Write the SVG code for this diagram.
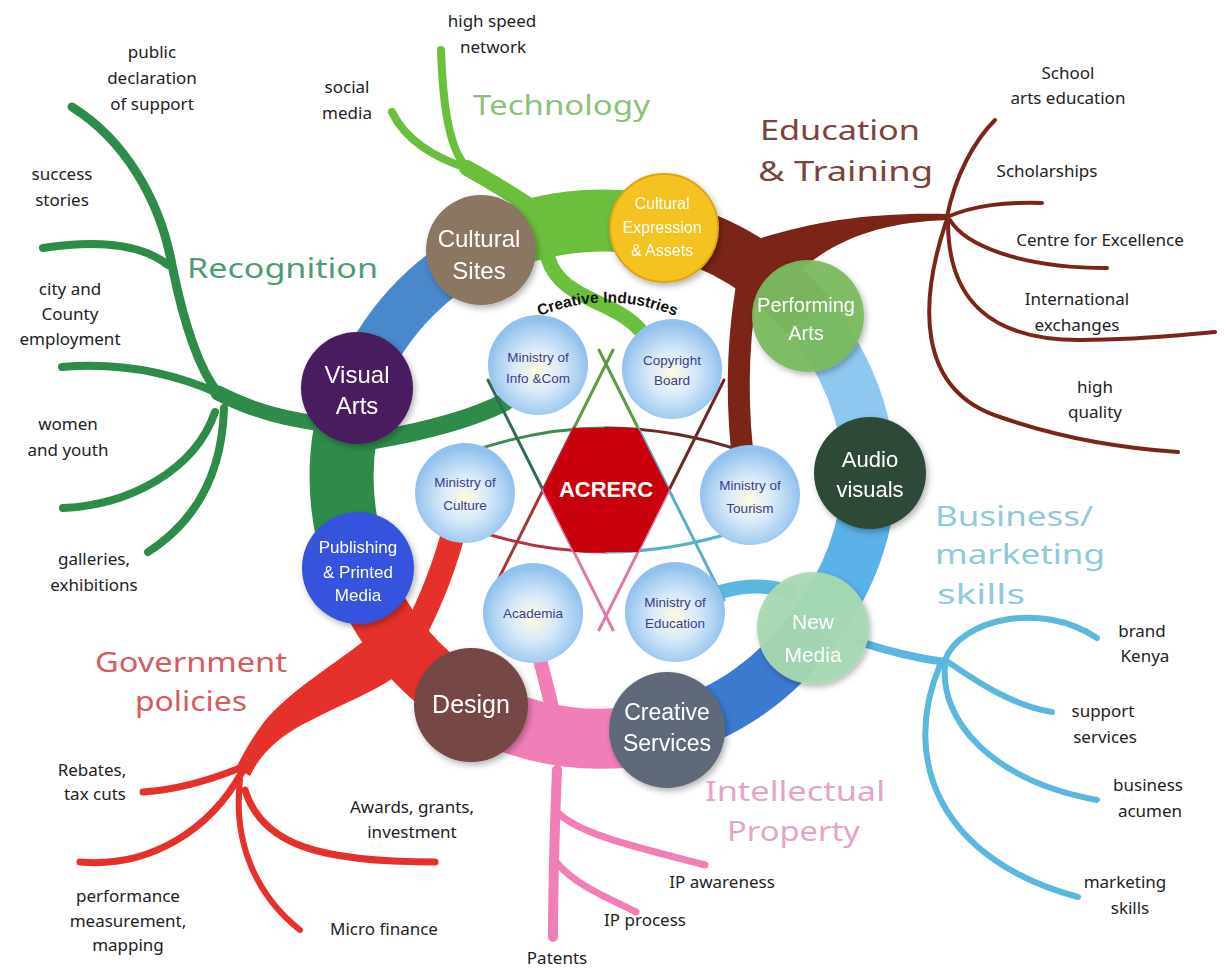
<svg xmlns="http://www.w3.org/2000/svg" width="1226" height="968" viewBox="0 0 1226 968">
<defs>
  <radialGradient id="min" cx="50%" cy="55%" r="50%">
    <stop offset="0%" stop-color="#fffbe0"/>
    <stop offset="45%" stop-color="#d8eaf9"/>
    <stop offset="85%" stop-color="#a7cef1"/>
    <stop offset="100%" stop-color="#92c1ee"/>
  </radialGradient>
  <filter id="sh" x="-20%" y="-20%" width="140%" height="140%">
    <feDropShadow dx="2" dy="3" stdDeviation="3" flood-color="#000" flood-opacity="0.3"/>
  </filter>
  <path id="ciArc" d="M 520 325 Q 607 280 695 325"/>
</defs>
<style>
  .br{fill:none;stroke-linecap:round;stroke-linejoin:round}
  .ring{fill:none;stroke-linecap:butt}
  .lbl{font-family:"Noto Sans","DejaVu Sans",sans-serif;font-size:17px;fill:#222;text-anchor:middle}
  .cat{font-family:"Noto Sans","DejaVu Sans",sans-serif;font-size:27px}
  .nt{font-family:"Liberation Sans",Arial,sans-serif;text-anchor:middle;fill:#fff}
  .mt{font-family:"Liberation Sans",Arial,sans-serif;font-size:13.5px;text-anchor:middle;fill:#3c3c8c}
  .star{fill:none;stroke-width:3;stroke-linecap:round}
  .min{fill:url(#min)}
</style>
<rect width="1226" height="968" fill="#ffffff"/>

<g id="connectors">
  <!-- Recognition (green) -->
  <g stroke="#2e8b4a" class="br">
    <path d="M 218 393 C 255 412 290 420 330 425" stroke-width="15"/>
    <path d="M 72 107 C 125 140 160 200 172 265 C 185 330 200 370 218 393" stroke-width="9"/>
    <path d="M 43 248 C 95 240 140 243 168 265" stroke-width="8"/>
    <path d="M 62 367 C 120 362 170 372 218 393" stroke-width="8"/>
    <path d="M 63 508 C 130 505 195 470 215 412" stroke-width="8"/>
    <path d="M 148 552 C 190 525 222 480 224 408" stroke-width="8"/>
    <path d="M 375 440 C 420 432 470 420 505 402" stroke-width="18"/>
  </g>
  <!-- Technology (light green) -->
  <g stroke="#6cbf3c" class="br">
    <path d="M 528 205 C 505 190 485 178 467 168" stroke-width="16"/>
    <path d="M 467 168 C 435 158 405 140 392 112" stroke-width="8"/>
    <path d="M 467 168 C 450 150 443 110 441 50" stroke-width="8"/>
    <path d="M 548 258 C 560 300 615 300 640 330" stroke-width="15"/>
  </g>
  <!-- Education & Training (maroon) -->
  <path d="M 755 240 C 810 222 870 212 948 214 L 948 220 C 880 222 830 240 790 280 Z" fill="#7a2518"/>
  <g stroke="#7a2518" class="br">
    <path d="M 750 270 C 738 330 736 390 742 450" stroke-width="22"/>
    <path d="M 947 217 C 955 175 975 140 995 120" stroke-width="4"/>
    <path d="M 947 217 C 975 205 1005 202 1042 203" stroke-width="4"/>
    <path d="M 950 220 C 965 245 1020 268 1107 268" stroke-width="4"/>
    <path d="M 948 222 C 948 300 990 340 1080 340 C 1140 340 1180 335 1215 332" stroke-width="4"/>
    <path d="M 946 222 C 920 300 915 390 1000 417 C 1060 438 1120 448 1178 452" stroke-width="4"/>
  </g>
  <!-- Business / marketing (light blue) -->
  <g stroke="#5bb7dd" class="br">
    <path d="M 720 592 C 745 585 770 585 790 592" stroke-width="14"/>
    <path d="M 860 642 C 890 652 915 658 945 662" stroke-width="8"/>
    <path d="M 945 660 C 960 620 1040 600 1097 638" stroke-width="6"/>
    <path d="M 948 662 C 975 680 1010 705 1052 712" stroke-width="6"/>
    <path d="M 945 665 C 940 720 990 780 1097 800" stroke-width="6"/>
    <path d="M 940 665 C 900 760 940 860 1078 897" stroke-width="6"/>
  </g>
  <!-- Government policies (red) -->
  <g stroke="#e6302b" class="br" fill="none">
    <path d="M 452 538 C 440 580 425 615 405 650" stroke-width="24"/>
    <path d="M 240 768 C 205 782 175 790 143 792" stroke-width="7"/>
    <path d="M 242 772 C 210 830 150 868 80 862" stroke-width="7"/>
    <path d="M 240 780 C 232 850 262 900 300 930" stroke-width="6"/>
    <path d="M 245 790 C 262 845 320 862 435 862" stroke-width="7"/>
  </g>
  <path d="M 378 630 C 335 665 292 688 264 722 C 252 738 244 752 236 768 L 250 776 C 260 755 276 740 298 727 C 338 705 378 692 412 665 Z" fill="#e6302b"/>
  <!-- Intellectual Property (pink) -->
  <g stroke="#f27eb8" class="br">
    <path d="M 540 660 C 548 690 556 720 560 750" stroke-width="14"/>
    <path d="M 557 770 C 555 820 553 880 553 937" stroke-width="10"/>
    <path d="M 557 812 C 580 835 640 848 705 865" stroke-width="7"/>
    <path d="M 556 862 C 575 885 608 898 636 912" stroke-width="7"/>
  </g>
  <!-- Ring -->
  <g id="ring">
    <path class="ring" d="M 358 568 A 262 262 0 0 1 357 388" stroke="#2e8b4a" stroke-width="64"/>
    <path class="ring" d="M 357 388 A 262 262 0 0 1 481 250" stroke="#4a88cc" stroke-width="50"/>
    <path class="ring" d="M 481 250 A 262 262 0 0 1 664 228" stroke="#6cbf3c" stroke-width="62"/>
    <path class="ring" d="M 664 228 A 262 262 0 0 1 808 316" stroke="#7a2518" stroke-width="56"/>
    <path class="ring" d="M 808 316 A 262 262 0 0 1 870 473" stroke="#8ec8f0" stroke-width="52"/>
    <path class="ring" d="M 870 473 A 262 262 0 0 1 813 628" stroke="#5ab2e8" stroke-width="54"/>
    <path class="ring" d="M 813 628 A 262 262 0 0 1 667 730" stroke="#3c7ad0" stroke-width="54"/>
    <path class="ring" d="M 667 730 A 262 262 0 0 1 471 705" stroke="#f27eb8" stroke-width="60"/>
    <path class="ring" d="M 471 705 A 262 262 0 0 1 358 568" stroke="#e6302b" stroke-width="60"/>
  </g>
  <!-- Star lines -->
  <g id="star">
    <path class="star" d="M 470 452 Q 538 428 606 428" stroke="#3f8a4f"/>
    <path class="star" d="M 606 428 Q 675 428 745 452" stroke="#6e2a22"/>
    <path class="star" d="M 475 530 Q 540 552 607 552" stroke="#b8303a"/>
    <path class="star" d="M 607 552 Q 673 552 740 530" stroke="#58b0c8"/>
    <path class="star" d="M 613 350 L 574 428" stroke="#5a9a40"/>
    <path class="star" d="M 574 428 L 488 600" stroke="#a8343a"/>
    <path class="star" d="M 599 350 L 638 428" stroke="#5a9a40"/>
    <path class="star" d="M 638 428 L 724 600" stroke="#5ab0c8"/>
    <path class="star" d="M 488 380 L 543 490" stroke="#2f6a58"/>
    <path class="star" d="M 543 490 L 613 630" stroke="#e07aaa"/>
    <path class="star" d="M 724 380 L 669 490" stroke="#6e2a22"/>
    <path class="star" d="M 669 490 L 599 630" stroke="#e07aaa"/>
  </g>
</g>

<g id="min-info"><circle class="min" cx="538" cy="365" r="50"/><text class="mt" x="538" y="362">Ministry of</text><text class="mt" x="538" y="383">Info &amp;Com</text></g>
<g id="min-copyright"><circle class="min" cx="672" cy="369" r="50"/><text class="mt" x="672" y="365">Copyright</text><text class="mt" x="672" y="385">Board</text></g>
<g id="min-culture"><circle class="min" cx="465" cy="493" r="50"/><text class="mt" x="465" y="487">Ministry of</text><text class="mt" x="465" y="510">Culture</text></g>
<g id="min-tourism"><circle class="min" cx="750" cy="495" r="50"/><text class="mt" x="750" y="490">Ministry of</text><text class="mt" x="750" y="513">Tourism</text></g>
<g id="academia"><circle class="min" cx="533" cy="613" r="50"/><text class="mt" x="533" y="618">Academia</text></g>
<g id="min-education"><circle class="min" cx="675" cy="612" r="50"/><text class="mt" x="675" y="607">Ministry of</text><text class="mt" x="675" y="628">Education</text></g>

<g id="acrerc"><polygon points="574,428 638,428 669,490 638,552 574,552 543,490" fill="#c8000c"/><text x="606" y="497" font-family="Liberation Sans, Arial, sans-serif" font-weight="bold" font-size="22" fill="#fff" text-anchor="middle">ACRERC</text></g>

<g id="creative-industries"><text font-family="Liberation Sans, Arial, sans-serif" font-weight="bold" font-size="15.5" fill="#111"><textPath href="#ciArc" startOffset="50%" text-anchor="middle">Creative Industries</textPath></text></g>

<g id="visual-arts" filter="url(#sh)"><circle cx="357" cy="388" r="56" fill="#4a1f5e"/><text class="nt" x="357" y="383" font-size="24">Visual</text><text class="nt" x="357" y="414" font-size="24">Arts</text></g>
<g id="cultural-sites" filter="url(#sh)"><circle cx="481" cy="250" r="55" fill="#8b7662"/><text class="nt" x="479" y="247" font-size="24" fill="#f2eee4">Cultural</text><text class="nt" x="479" y="279" font-size="24" fill="#f2eee4">Sites</text></g>
<g id="cultural-expression" filter="url(#sh)"><circle cx="664" cy="228" r="54" fill="#f4c320" stroke="#dca512" stroke-width="2"/><text class="nt" x="662" y="209" font-size="16" fill="#5a3c10">Cultural</text><text class="nt" x="662" y="233" font-size="16" fill="#5a3c10">Expression</text><text class="nt" x="662" y="256" font-size="16" fill="#5a3c10">&amp; Assets</text></g>
<g id="performing-arts" filter="url(#sh)"><circle cx="808" cy="316" r="56" fill="#7bba60" fill-opacity="0.95"/><text class="nt" x="806" y="312" font-size="20">Performing</text><text class="nt" x="806" y="340" font-size="20">Arts</text></g>
<g id="audio-visuals" filter="url(#sh)"><circle cx="870" cy="473" r="56" fill="#2f4937"/><text class="nt" x="870" y="467" font-size="22">Audio</text><text class="nt" x="870" y="497" font-size="22">visuals</text></g>
<g id="new-media" filter="url(#sh)"><circle cx="813" cy="628" r="56" fill="#a8d9b2" fill-opacity="0.95"/><text class="nt" x="813" y="629" font-size="21" fill="#1e2a22">New</text><text class="nt" x="813" y="662" font-size="21" fill="#1e2a22">Media</text></g>
<g id="creative-services" filter="url(#sh)"><circle cx="667" cy="730" r="58" fill="#5f6979"/><text class="nt" x="667" y="720" font-size="23">Creative</text><text class="nt" x="667" y="751" font-size="23">Services</text></g>
<g id="design" filter="url(#sh)"><circle cx="471" cy="705" r="57" fill="#744645"/><text class="nt" x="471" y="713" font-size="25">Design</text></g>
<g id="publishing" filter="url(#sh)"><circle cx="358" cy="568" r="56" fill="#3453dc"/><text class="nt" x="358" y="553" font-size="17">Publishing</text><text class="nt" x="358" y="578" font-size="17">&amp; Printed</text><text class="nt" x="358" y="601" font-size="17">Media</text></g>

<g id="categories">
  <text class="cat" x="473" y="115" fill="#8dc07a" textLength="177" lengthAdjust="spacingAndGlyphs">Technology</text>
  <text class="cat" x="760" y="140" fill="#7b433b" textLength="160" lengthAdjust="spacingAndGlyphs">Education</text>
  <text class="cat" x="758" y="181" fill="#7b433b" textLength="175" lengthAdjust="spacingAndGlyphs">&amp; Training</text>
  <text class="cat" x="187" y="278" fill="#4f9b73" textLength="191" lengthAdjust="spacingAndGlyphs">Recognition</text>
  <text class="cat" x="935" y="526" fill="#8fcad9" textLength="158" lengthAdjust="spacingAndGlyphs">Business/</text>
  <text class="cat" x="935" y="564" fill="#8fcad9" textLength="170" lengthAdjust="spacingAndGlyphs">marketing</text>
  <text class="cat" x="937" y="604" fill="#8fcad9" textLength="88" lengthAdjust="spacingAndGlyphs">skills</text>
  <text class="cat" x="95" y="672" fill="#d65a5e" textLength="192" lengthAdjust="spacingAndGlyphs">Government</text>
  <text class="cat" x="135" y="711" fill="#d65a5e" textLength="112" lengthAdjust="spacingAndGlyphs">policies</text>
  <text class="cat" x="705" y="801" fill="#e6a3c8" textLength="180" lengthAdjust="spacingAndGlyphs">Intellectual</text>
  <text class="cat" x="727" y="841" fill="#e6a3c8" textLength="133" lengthAdjust="spacingAndGlyphs">Property</text>
</g>

<g id="leaves">
  <text class="lbl" x="492" y="27">high speed</text><text class="lbl" x="493" y="53">network</text>
  <text class="lbl" x="347" y="93">social</text><text class="lbl" x="347" y="119">media</text>
  <text class="lbl" x="152" y="58">public</text><text class="lbl" x="152" y="84">declaration</text><text class="lbl" x="152" y="110">of support</text>
  <text class="lbl" x="62" y="180">success</text><text class="lbl" x="62" y="206">stories</text>
  <text class="lbl" x="70" y="295">city and</text><text class="lbl" x="70" y="320">County</text><text class="lbl" x="70" y="345">employment</text>
  <text class="lbl" x="68" y="430">women</text><text class="lbl" x="68" y="456">and youth</text>
  <text class="lbl" x="94" y="565">galleries,</text><text class="lbl" x="94" y="591">exhibitions</text>
  <text class="lbl" x="1068" y="79">School</text><text class="lbl" x="1068" y="104">arts education</text>
  <text class="lbl" x="1047" y="177">Scholarships</text>
  <text class="lbl" x="1100" y="246">Centre for Excellence</text>
  <text class="lbl" x="1077" y="305">International</text><text class="lbl" x="1077" y="331">exchanges</text>
  <text class="lbl" x="1095" y="393">high</text><text class="lbl" x="1095" y="418">quality</text>
  <text class="lbl" x="1142" y="637">brand</text><text class="lbl" x="1145" y="662">Kenya</text>
  <text class="lbl" x="1103" y="717">support</text><text class="lbl" x="1105" y="743">services</text>
  <text class="lbl" x="1148" y="791">business</text><text class="lbl" x="1150" y="817">acumen</text>
  <text class="lbl" x="1125" y="888">marketing</text><text class="lbl" x="1130" y="914">skills</text>
  <text class="lbl" x="92" y="776">Rebates,</text><text class="lbl" x="95" y="800">tax cuts</text>
  <text class="lbl" x="412" y="813">Awards, grants,</text><text class="lbl" x="412" y="838">investment</text>
  <text class="lbl" x="128" y="902">performance</text><text class="lbl" x="128" y="927">measurement,</text><text class="lbl" x="128" y="951">mapping</text>
  <text class="lbl" x="384" y="935">Micro finance</text>
  <text class="lbl" x="722" y="888" text-anchor="start">IP awareness</text>
  <text class="lbl" x="645" y="926" text-anchor="start">IP process</text>
  <text class="lbl" x="557" y="964" text-anchor="start">Patents</text>
</g>
</svg>
